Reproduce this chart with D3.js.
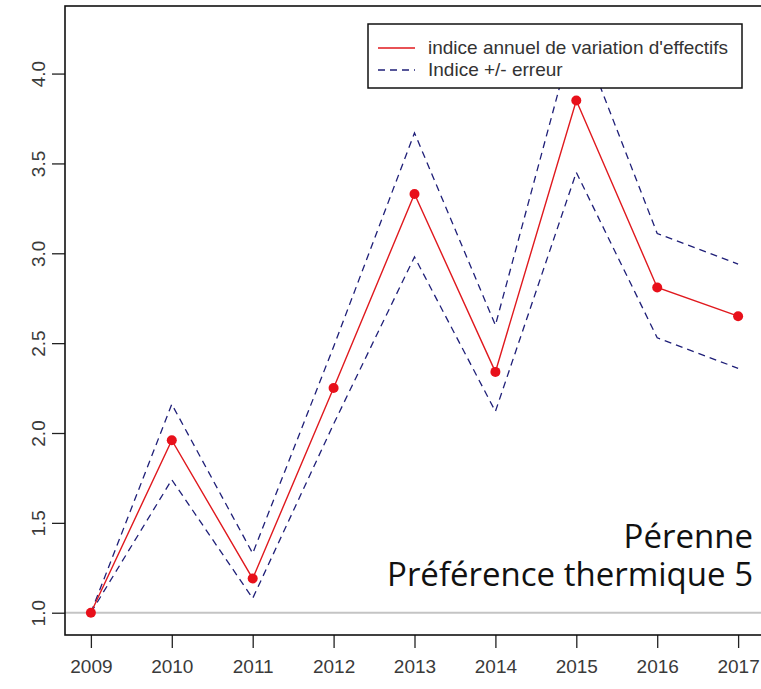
<!DOCTYPE html>
<html>
<head>
<meta charset="utf-8">
<script src="https://cdn.jsdelivr.net/npm/d3@7"></script>
<style>
  body { margin: 0; background: #fff; }
  text { font-family: "Liberation Sans", Arial, sans-serif; }
</style>
</head>
<body>
<svg id="chart" width="761" height="689"></svg>
<script>
// data
var years = [2009, 2010, 2011, 2012, 2013, 2014, 2015, 2016, 2017];
var indice = [1.00, 1.96, 1.19, 2.25, 3.33, 2.34, 3.85, 2.81, 2.65];
var upper = [1.00, 2.16, 1.33, 2.48, 3.67, 2.60, 4.27, 3.11, 2.94];
var lower = [1.00, 1.74, 1.08, 2.05, 2.98, 2.12, 3.45, 2.53, 2.36];
var yTicks = [1.0, 1.5, 2.0, 2.5, 3.0, 3.5, 4.0];
var legendLabels = ["indice annuel de variation d'effectifs", "Indice +/- erreur"];
var noteLines = ["Pérenne", "Préférence thermique 5"];

var svg = d3.select("#chart");

// plot box
var box = { left: 65, top: 6, right: 764, bottom: 635 };

var x = d3.scaleLinear()
    .domain([2008.68, 2017.32])
    .range([box.left, box.right]);
var y = d3.scaleLinear()
    .domain([0.876, 4.376])
    .range([box.bottom, box.top]);

// reference line at 1
svg.append("line")
    .attr("x1", box.left).attr("x2", box.right)
    .attr("y1", y(1)).attr("y2", y(1))
    .style("stroke", "#c4c4c4")
    .style("stroke-width", 2);

var line = d3.line()
    .x(d => x(d[0]))
    .y(d => y(d[1]));

// error bounds
[upper, lower].forEach(function(serie) {
    svg.append("path")
        .attr("d", line(years.map((yr, i) => [yr, serie[i]])))
        .style("fill", "none")
        .style("stroke", "#1f1f78")
        .style("stroke-width", 1.3)
        .style("stroke-dasharray", "7,5");
});

// main index
svg.append("path")
    .attr("d", line(years.map((yr, i) => [yr, indice[i]])))
    .style("fill", "none")
    .style("stroke", "#e0191e")
    .style("stroke-width", 1.4);

svg.selectAll("circle.pt")
    .data(years)
    .enter()
    .append("circle")
    .classed("pt", true)
    .attr("cx", d => x(d))
    .attr("cy", (d, i) => y(indice[i]))
    .attr("r", 5)
    .style("fill", "#e8101a");

// axes
var xAxis = d3.axisBottom(x)
    .tickValues(years)
    .tickFormat(d3.format("d"))
    .tickSize(13)
    .tickPadding(12);
var gx = svg.append("g")
    .attr("transform", `translate(0,${box.bottom})`)
    .call(xAxis);
gx.select(".domain").remove();

var yAxis = d3.axisLeft(y)
    .tickValues(yTicks)
    .tickFormat(d3.format(".1f"))
    .tickSize(13);
var gy = svg.append("g")
    .attr("transform", `translate(${box.left},0)`)
    .call(yAxis);
gy.select(".domain").remove();
gy.selectAll("text")
    .attr("x", 0).attr("y", 0).attr("dy", 0)
    .attr("transform", "translate(-25,0) rotate(-90)")
    .attr("dominant-baseline", "middle")
    .style("text-anchor", "middle");

svg.selectAll(".tick line")
    .style("stroke", "#222")
    .style("stroke-width", 1.3);
svg.selectAll(".tick text")
    .style("font-size", "19px")
    .style("fill", "#3a3a3a");

svg.append("rect")
    .attr("x", box.left).attr("y", box.top)
    .attr("width", box.right - box.left)
    .attr("height", box.bottom - box.top)
    .style("fill", "none")
    .style("stroke", "#111")
    .style("stroke-width", 1.6);

// legend
var legend = svg.append("g")
    .attr("transform", "translate(368,24)");
legend.append("rect")
    .attr("width", 374)
    .attr("height", 64)
    .style("fill", "white")
    .style("stroke", "#111")
    .style("stroke-width", 1.5);
legend.append("line")
    .attr("x1", 10).attr("x2", 47)
    .attr("y1", 24).attr("y2", 24)
    .style("stroke", "#e0191e")
    .style("stroke-width", 1.4);
legend.append("line")
    .attr("x1", 10).attr("x2", 47)
    .attr("y1", 46).attr("y2", 46)
    .style("stroke", "#1f1f78")
    .style("stroke-width", 1.3)
    .style("stroke-dasharray", "7,5");
legend.selectAll("text.lg")
    .data(legendLabels)
    .enter()
    .append("text")
    .classed("lg", true)
    .attr("x", 60)
    .attr("y", (d, i) => 30 + i * 22)
    .style("font-size", "19px")
    .style("fill", "#333")
    .text(d => d);

// note bottom right
svg.selectAll("text.note")
    .data(noteLines)
    .enter()
    .append("text")
    .classed("note", true)
    .attr("x", 753)
    .attr("y", (d, i) => 548 + i * 38)
    .style("text-anchor", "end")
    .style("font-family", "'Open Sans', sans-serif")
    .style("font-size", "33px")
    .style("fill", "#111")
    .text(d => d);
</script>
</body>
</html>
